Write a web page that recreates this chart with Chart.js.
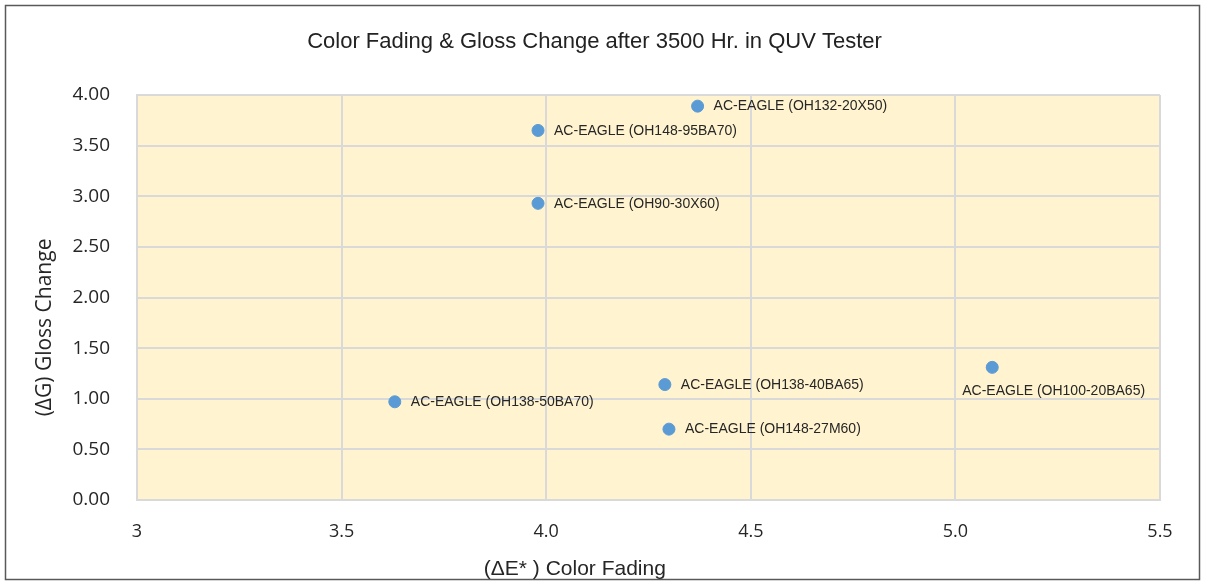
<!doctype html>
<html>
<head>
	<title>Color Fading &amp; Gloss Change after 3500 Hr. in QUV Tester</title>
	<style>
		body { margin: 0; background: #fff; }
	</style>
	<script src="https://cdn.jsdelivr.net/npm/chart.js@4.4.0/dist/chart.umd.min.js"></script>
</head>
<body>
	<canvas id="quv" width="1205" height="586"></canvas>
	<script>
		"use strict";
		const point_names = [
			"AC-EAGLE (OH132-20X50)",
			"AC-EAGLE (OH148-95BA70)",
			"AC-EAGLE (OH90-30X60)",
			"AC-EAGLE (OH138-50BA70)",
			"AC-EAGLE (OH138-40BA65)",
			"AC-EAGLE (OH148-27M60)",
			"AC-EAGLE (OH100-20BA65)"
		];
		const color_fading = [4.37, 3.98, 3.98, 3.63, 4.29, 4.30, 5.09];
		const gloss_change = [3.89, 3.65, 2.93, 0.97, 1.14, 0.70, 1.31];
		const label_side = ["right", "right", "right", "right", "right", "right", "below"];
		const x_tick_labels = ["3", "3.5", "4.0", "4.5", "5.0", "5.5"];
		const y_tick_labels = ["0.00", "0.50", "1.00", "1.50", "2.00", "2.50", "3.00", "3.50", "4.00"];
		const x_title = "(\u0394E* ) Color Fading";
		const y_title = "(\u0394G) Gloss Change";

		const points = color_fading.map((x, i) => ({ x: x, y: gloss_change[i] }));

		// plot background, outer frame, point labels, axis titles
		const decor = {
			id: "decor",
			beforeDraw(chart) {
				const ctx = chart.ctx, a = chart.chartArea;
				ctx.save();
				ctx.fillStyle = "#fff";
				ctx.fillRect(0, 0, chart.width, chart.height);
				ctx.strokeStyle = "#595959";
				ctx.lineWidth = 1.5;
				ctx.strokeRect(5.5, 5.5, 1194, 574);
				ctx.fillStyle = "#FFF4CF";
				ctx.fillRect(a.left, a.top, a.right - a.left, a.bottom - a.top);
				ctx.restore();
			},
			afterDatasetsDraw(chart) {
				const ctx = chart.ctx, a = chart.chartArea;
				const meta = chart.getDatasetMeta(0);
				ctx.save();
				ctx.font = "14px 'Liberation Sans'";
				ctx.fillStyle = "#262626";
				ctx.textBaseline = "middle";
				ctx.textAlign = "left";
				meta.data.forEach((pt, i) => {
					if (label_side[i] === "below")
						ctx.fillText(point_names[i], pt.x - 30, pt.y + 24);
					else
						ctx.fillText(point_names[i], pt.x + 16, pt.y + 0.5);
				});
				ctx.textAlign = "center";
				ctx.font = "21px 'Liberation Sans'";
				ctx.fillText(x_title, a.left + (a.right - a.left) * 0.428, 569);
				ctx.translate(45, a.top + (a.bottom - a.top) * 0.574);
				ctx.rotate(-Math.PI / 2);
				ctx.font = "21px 'Open Sans'";
				ctx.fillText(y_title, 0, 0);
				ctx.restore();
			}
		};

		Chart.defaults.font.family = "'Liberation Sans', sans-serif";
		Chart.defaults.color = "#262626";

		new Chart(document.getElementById("quv"), {
			type: "scatter",
			data: {
				datasets: [{
					label: "QUV 3500 Hr.",
					data: points,
					backgroundColor: "#5B9BD5",
					borderColor: "#5B9BD5",
					pointRadius: 6,
					pointHoverRadius: 6
				}]
			},
			options: {
				responsive: false,
				animation: false,
				layout: { padding: { left: 0, right: 16, top: 0, bottom: 0 } },
				plugins: {
					legend: { display: false },
					tooltip: { enabled: false },
					title: {
						display: true,
						text: "Color Fading & Gloss Change after 3500 Hr. in QUV Tester",
						color: "#222",
						font: { size: 22, weight: "normal" },
						padding: { top: 28.8, bottom: 39.8 }
					}
				},
				scales: {
					x: {
						type: "linear",
						min: 3,
						max: 5.5,
						ticks: {
							stepSize: 0.5,
							padding: 21,
							font: { family: "'Open Sans'", size: 18 },
							callback: (v, i) => x_tick_labels[i]
						},
						grid: { color: "#D9D9D9", lineWidth: 2, drawTicks: false },
						border: { color: "#D9D9D9", width: 2 },
						afterFit(scale) { scale.height = 86; }
					},
					y: {
						type: "linear",
						min: 0,
						max: 4,
						ticks: {
							stepSize: 0.5,
							padding: 27,
							font: { family: "'Open Sans'", size: 19 },
							callback: (v, i) => y_tick_labels[i]
						},
						grid: { color: "#D9D9D9", lineWidth: 2, drawTicks: false },
						border: { color: "#D9D9D9", width: 2 },
						afterFit(scale) { scale.width = 137; }
					},
					y2: {
						type: "linear",
						position: "right",
						min: 0,
						max: 4,
						ticks: { display: false },
						grid: { display: false },
						border: { display: false },
						afterFit(scale) { scale.width = 29; }
					}
				}
			},
			plugins: [decor]
		});
	</script>
</body>
</html>
